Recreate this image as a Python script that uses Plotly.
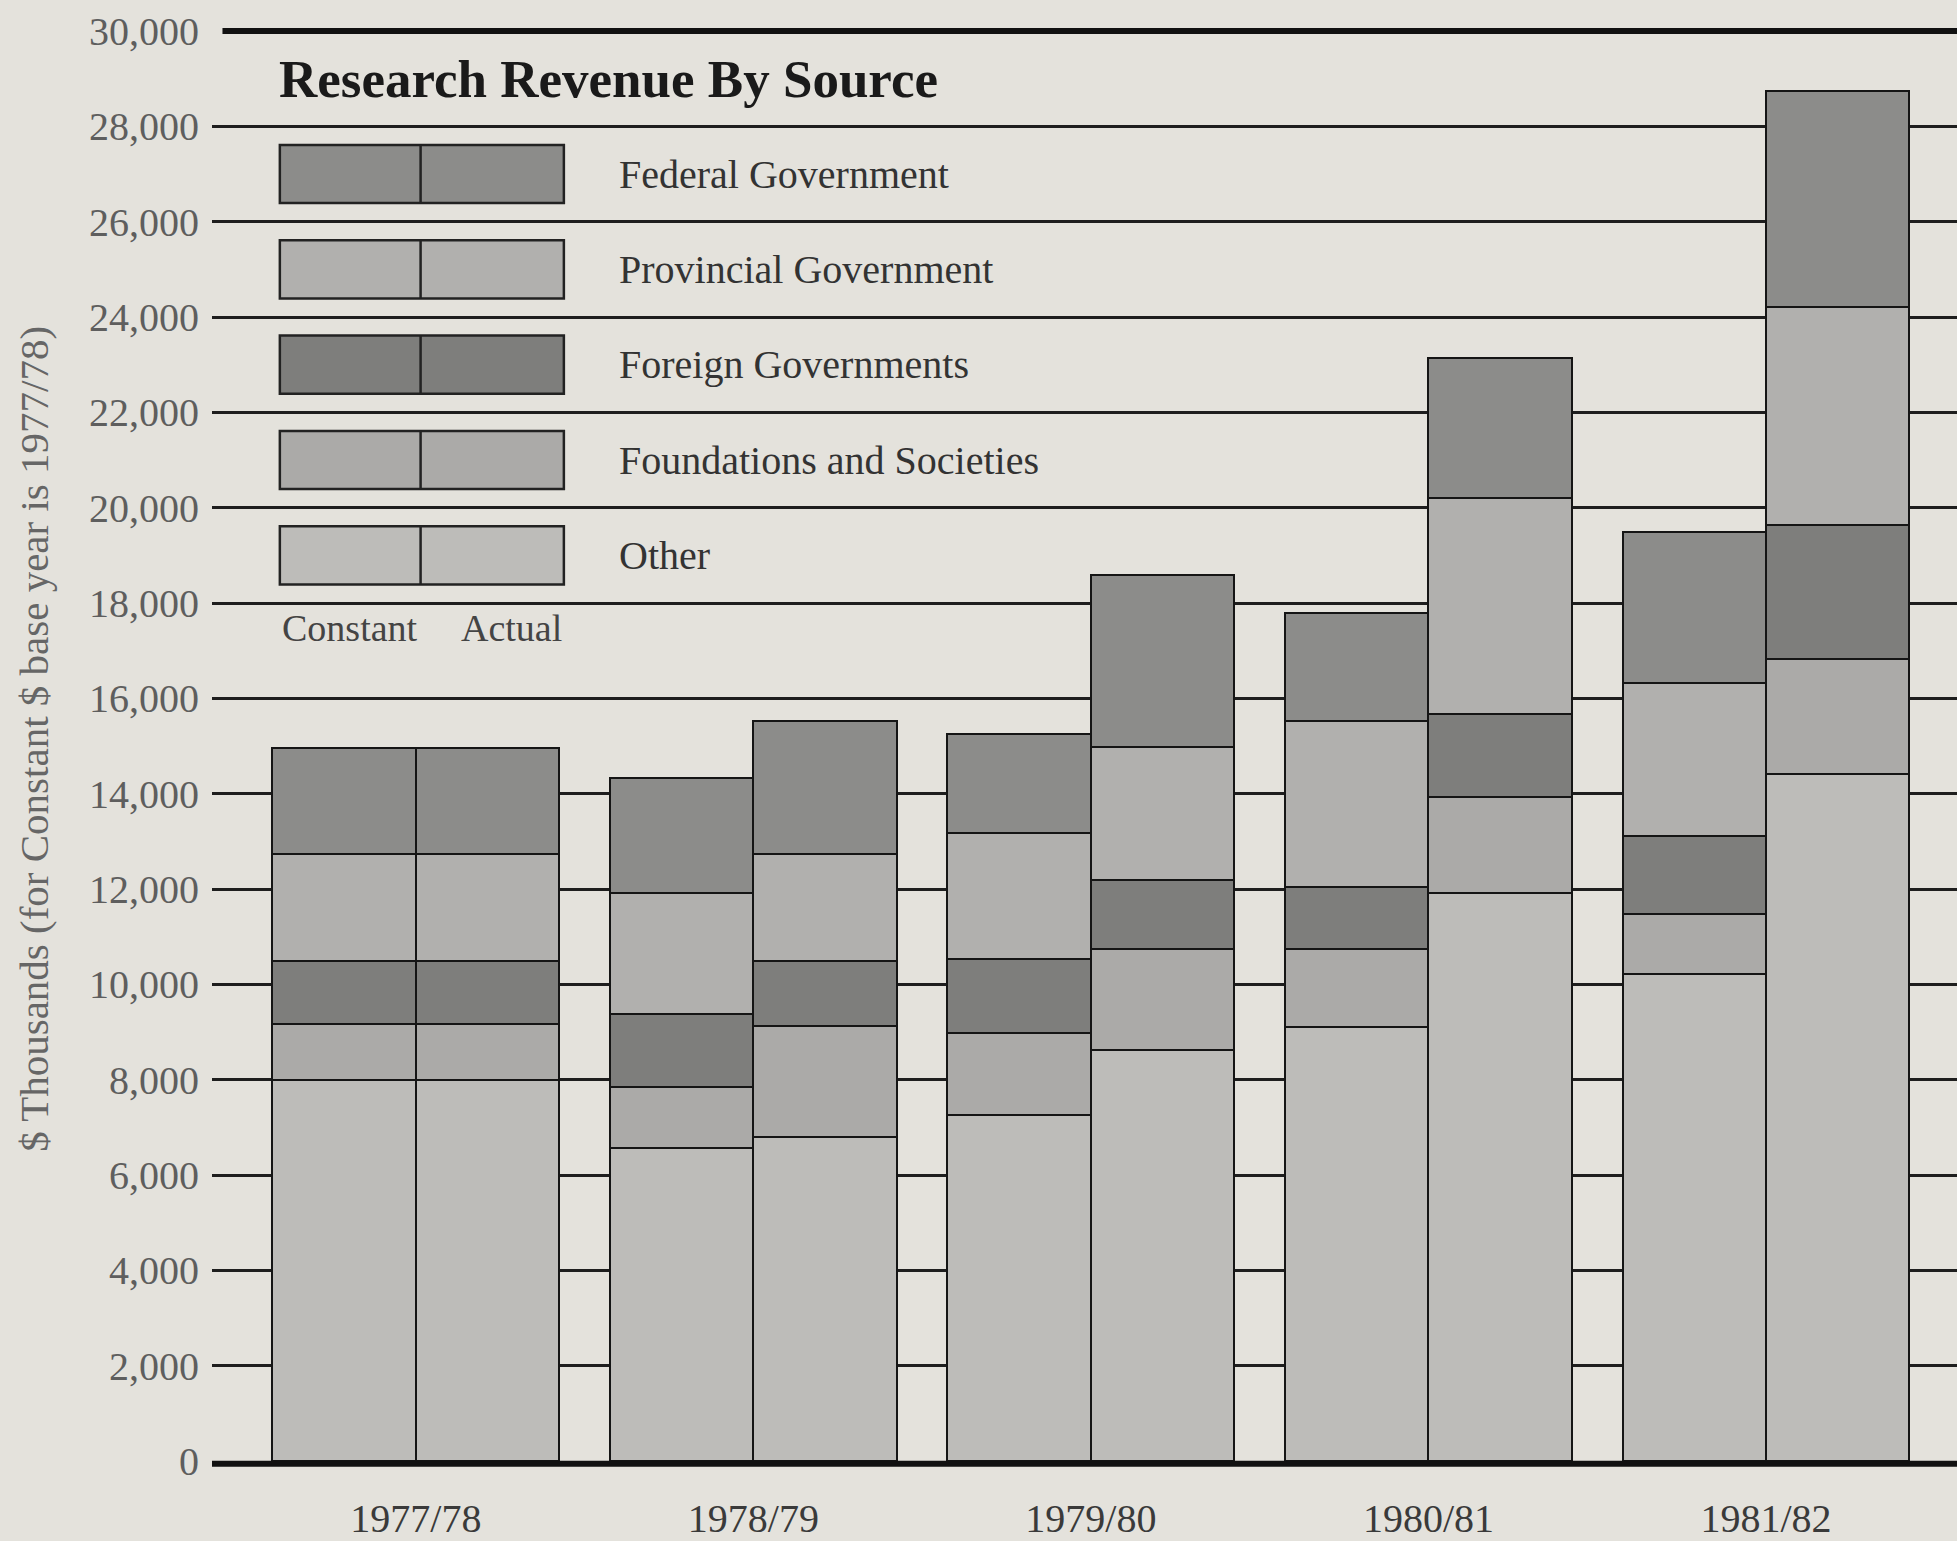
import plotly.graph_objects as go

categories = ["1977/78", "1978/79", "1979/80", "1980/81", "1981/82"]

# stack order bottom -> top
series_names = ["Other", "Foundations and Societies", "Foreign Governments",
                "Provincial Government", "Federal Government"]
series_colors = ["#bdbcb9", "#abaaa8", "#7e7e7c", "#b1b0ae", "#8c8c8a"]

constant_other = [8000, 6560, 7260, 9110, 10210]
constant_found = [1160, 1290, 1710, 1640, 1270]
constant_foreign = [1320, 1520, 1560, 1300, 1640]
constant_prov = [2250, 2550, 2640, 3480, 3200]
constant_fed = [2220, 2400, 2090, 2260, 3180]

actual_other = [8000, 6800, 8630, 11920, 14420]
actual_found = [1160, 2330, 2120, 2000, 2400]
actual_foreign = [1320, 1350, 1430, 1760, 2810]
actual_prov = [2250, 2250, 2790, 4530, 4580]
actual_fed = [2220, 2800, 3610, 2920, 4540]

y_ticks = list(range(0, 30001, 2000))
y_tick_labels = [f"{v:,}" for v in y_ticks]

constant_series = [constant_other, constant_found, constant_foreign, constant_prov, constant_fed]
actual_series = [actual_other, actual_found, actual_foreign, actual_prov, actual_fed]

BG = "#e4e2dc"
SERIF = "Liberation Serif"
BW = 0.425
idx = list(range(len(categories)))
x_const = [i - BW / 2 for i in idx]
x_act = [i + BW / 2 for i in idx]

fig = go.Figure()
for name, color, cv, av in zip(series_names, series_colors, constant_series, actual_series):
    fig.add_trace(go.Bar(
        x=x_const + x_act,
        y=cv + av,
        width=[BW] * (2 * len(categories)),
        name=name,
        marker=dict(color=color, line=dict(color="#151515", width=2.5)),
        showlegend=False,
    ))

shapes = []
annotations = []

# heavy top and bottom rules
shapes.append(dict(type="line", xref="paper", yref="paper", x0=0.006, x1=1, y0=1, y1=1,
                   line=dict(color="#111", width=6), layer="above"))
shapes.append(dict(type="line", xref="paper", yref="paper", x0=0, x1=1, y0=-0.002, y1=-0.002,
                   line=dict(color="#111", width=6), layer="above"))

# custom legend (top to bottom: Federal ... Other)
leg_left, leg_mid, leg_right = -0.403, 0.014, 0.4385
leg_centers = [27000, 25000, 23000, 21000, 19000]
for k, yc in enumerate(leg_centers):
    j = len(series_names) - 1 - k
    shapes.append(dict(type="rect", xref="x", yref="y", x0=leg_left, x1=leg_right,
                       y0=yc - 610, y1=yc + 610, fillcolor=series_colors[j],
                       line=dict(color="#222", width=2.5), layer="above"))
    shapes.append(dict(type="line", xref="x", yref="y", x0=leg_mid, x1=leg_mid,
                       y0=yc - 610, y1=yc + 610, line=dict(color="#222", width=2.5), layer="above"))
    annotations.append(dict(x=0.595, y=yc, xref="x", yref="y", text=series_names[j],
                            showarrow=False, xanchor="left", yanchor="middle",
                            font=dict(family=SERIF, size=40, color="#333")))

annotations.append(dict(x=leg_left, y=17470, xref="x", yref="y", text="Constant",
                        showarrow=False, xanchor="left", yanchor="middle",
                        font=dict(family=SERIF, size=38, color="#444")))
annotations.append(dict(x=leg_right, y=17470, xref="x", yref="y", text="Actual",
                        showarrow=False, xanchor="right", yanchor="middle",
                        font=dict(family=SERIF, size=38, color="#444")))

# title
annotations.append(dict(x=-0.41, y=29000, xref="x", yref="y", text="<b>Research Revenue By Source</b>",
                        showarrow=False, xanchor="left", yanchor="middle",
                        font=dict(family=SERIF, size=53, color="#1a1a1a")))

# y axis title
annotations.append(dict(x=-0.102, y=0.505, xref="paper", yref="paper",
                        text="$ Thousands (for Constant $ base year is 1977/78)",
                        textangle=-90, showarrow=False, xanchor="center", yanchor="middle",
                        font=dict(family=SERIF, size=41, color="#666")))

fig.update_layout(
    width=1957, height=1541,
    margin=dict(l=212, r=0, t=31, b=76),
    paper_bgcolor=BG, plot_bgcolor=BG,
    barmode="stack", bargap=0,
    shapes=shapes, annotations=annotations,
    showlegend=False,
)
fig.update_xaxes(
    range=[-0.604, 4.566],
    tickmode="array", tickvals=idx, ticktext=categories,
    showgrid=False, zeroline=False, showline=False,
    ticks="", ticklabelstandoff=30,
    tickfont=dict(family=SERIF, size=40, color="#3a3a3a"),
)
fig.update_yaxes(
    range=[0, 30000],
    tickmode="array", tickvals=y_ticks, ticktext=y_tick_labels,
    showgrid=True, gridcolor="#1e1e1e", gridwidth=2.5,
    zeroline=False, showline=False,
    ticks="", ticklabelstandoff=12,
    tickfont=dict(family=SERIF, size=40, color="#5e5e5e"),
)

fig.write_html(
    "out.html",
    config={"displayModeBar": False},
    post_script="document.body.style.margin='0';document.body.style.overflow='hidden';",
)
